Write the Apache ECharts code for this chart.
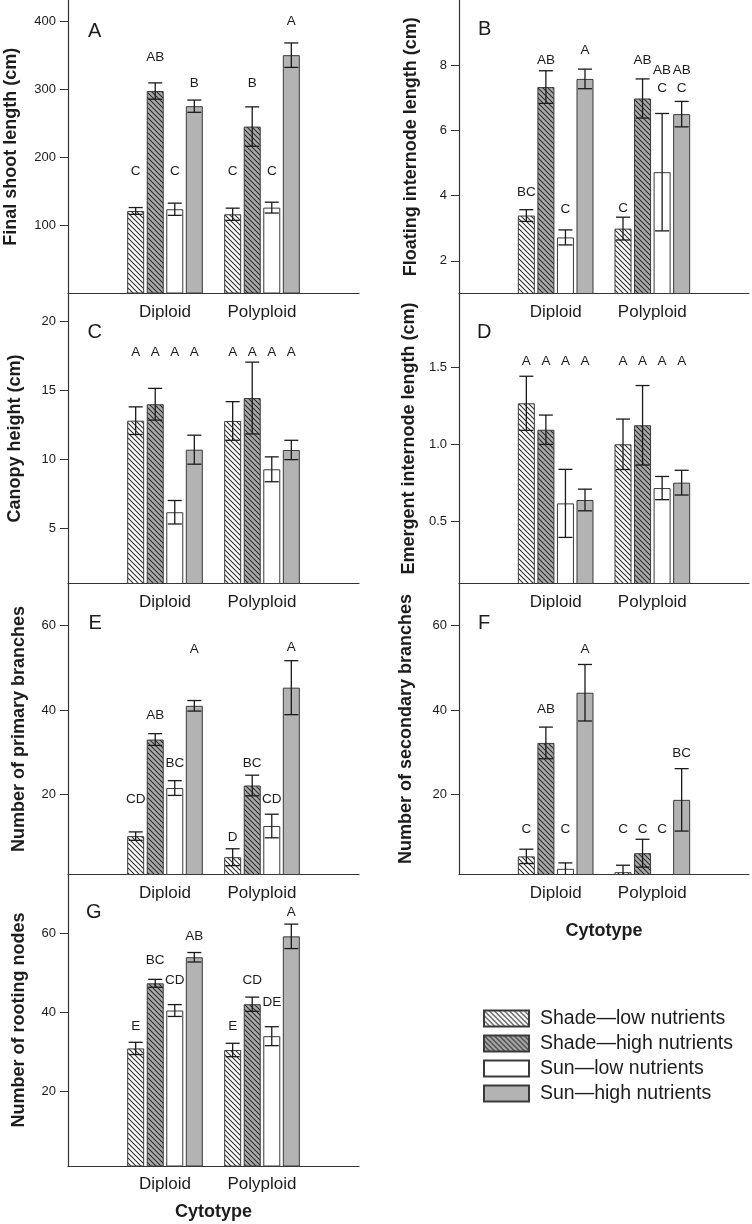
<!DOCTYPE html>
<html><head><meta charset="utf-8">
<script src="https://cdn.jsdelivr.net/npm/echarts@6/dist/echarts.min.js"></script>
<style>html,body{margin:0;padding:0;background:#fff}#c{width:752px;height:1224px}</style>
</head><body><div id="c"></div>
<script>
// ---------------- DATA ----------------
const categories = ['Diploid', 'Polyploid'];
const treatments = ['Shade\u2014low nutrients', 'Shade\u2014high nutrients', 'Sun\u2014low nutrients', 'Sun\u2014high nutrients'];
// each array: rows = treatments (in order above), cols = [Diploid, Polyploid]

// A: Final shoot length (cm)
const A_title = 'Final shoot length (cm)';
const A_ticks = [100, 200, 300, 400];
const A_mean = [[121.5, 116.6], [298, 245.7], [124, 126.4], [275.7, 350.8]];
const A_err  = [[5, 9], [12, 29], [9, 8], [9, 18]];
const A_letters = [['C', 'C'], ['AB', 'B'], ['C', 'C'], ['B', 'A']];
const A_letterAt = [[180, 180], [348, 310], [180, 180], [310, 400]];

// B: Floating internode length (cm)
const B_title = 'Floating internode length (cm)';
const B_ticks = [2, 4, 6, 8];
const B_mean = [[3.39, 2.99], [7.33, 6.98], [2.72, 4.72], [7.58, 6.50]];
const B_err  = [[0.18, 0.35], [0.5, 0.6], [0.23, 1.8], [0.3, 0.39]];
const B_letters = [['BC', 'C'], ['AB', 'AB'], ['C', 'AB\nC'], ['A', 'AB\nC']];
const B_letterAt = [[4.10, 3.62], [8.15, 8.15], [3.58, 7.56], [8.47, 7.56]];

// C: Canopy height (cm)
const C_title = 'Canopy height (cm)';
const C_ticks = [5, 10, 15, 20];
const C_mean = [[12.79, 12.77], [13.98, 14.43], [6.16, 9.27], [10.69, 10.67]];
const C_err  = [[1.0, 1.4], [1.15, 2.6], [0.85, 0.9], [1.05, 0.7]];
const C_letters = [['A', 'A'], ['A', 'A'], ['A', 'A'], ['A', 'A']];
const C_letterAt = [[17.76, 17.76], [17.76, 17.76], [17.76, 17.76], [17.76, 17.76]];

// D: Emergent internode length (cm)
const D_title = 'Emergent internode length (cm)';
const D_ticks = [0.5, 1.0, 1.5];
const D_mean = [[1.265, 1.0], [1.094, 1.123], [0.618, 0.717], [0.640, 0.752]];
const D_err  = [[0.175, 0.163], [0.095, 0.257], [0.22, 0.075], [0.07, 0.08]];
const D_letters = [['A', 'A'], ['A', 'A'], ['A', 'A'], ['A', 'A']];
const D_letterAt = [[1.534, 1.534], [1.534, 1.534], [1.534, 1.534], [1.534, 1.534]];

// E: Number of primary branches
const E_title = 'Number of primary branches';
const E_ticks = [20, 40, 60];
const E_mean = [[10.1, 5.1], [33.0, 22.1], [21.5, 12.5], [41.0, 45.3]];
const E_err  = [[1.0, 2.0], [1.4, 2.45], [1.75, 2.8], [1.25, 6.4]];
const E_letters = [['CD', 'D'], ['AB', 'BC'], ['BC', 'CD'], ['A', 'A']];
const E_letterAt = [[18.8, 9.8], [38.8, 27.4], [27.4, 18.8], [54.5, 54.8]];

// F: Number of secondary branches
const F_title = 'Number of secondary branches';
const F_ticks = [20, 40, 60];
const F_mean = [[5.3, 1.55], [32.2, 6.05], [2.35, null], [44.1, 18.7]];
const F_err  = [[1.7, 1.65], [3.75, 3.3], [1.4, null], [6.7, 7.4]];
const F_letters = [['C', 'C'], ['AB', 'C'], ['C', 'C'], ['A', 'BC']];
const F_letterAt = [[11.8, 11.8], [40.2, 11.8], [11.8, 11.8], [54.3, 29.7]];

// G: Number of rooting nodes
const G_title = 'Number of rooting nodes';
const G_ticks = [20, 40, 60];
const G_mean = [[30.8, 30.4], [47.3, 42.0], [40.4, 33.9], [53.9, 59.2]];
const G_err  = [[1.55, 1.7], [1.0, 1.8], [1.5, 2.4], [1.2, 3.1]];
const G_letters = [['E', 'E'], ['BC', 'CD'], ['CD', 'DE'], ['AB', 'A']];
const G_letterAt = [[36.3, 36.3], [53.2, 48.1], [48.1, 42.6], [59.1, 65.4]];

const xTitle = 'Cytotype';

// ---------------- LAYOUT / STYLE ----------------
const FONT = '"Liberation Sans", Arial, sans-serif';
const INK = '#1c1c1c';
const AXIS = '#333';
const BAR_W = 17, BAR_GAP = 0.15, BAR_STEP = BAR_W * (1 + BAR_GAP), CAP = 7;

const panels = [
  {tag:'A', title:A_title, ticks:A_ticks, mean:A_mean, err:A_err, letters:A_letters, letterAt:A_letterAt,
   grid:{left:68, top:0, width:291, height:293.5}, min:0, max:432, nameGap:48, tagPos:[88, 31]},
  {tag:'B', title:B_title, ticks:B_ticks, mean:B_mean, err:B_err, letters:B_letters, letterAt:B_letterAt,
   grid:{left:459, top:0, width:291, height:293.5}, min:1, max:10, nameGap:39, tagPos:[478, 29.5]},
  {tag:'C', title:C_title, ticks:C_ticks, mean:C_mean, err:C_err, letters:C_letters, letterAt:C_letterAt,
   grid:{left:68, top:293.5, width:291, height:290}, min:1, max:22, nameGap:44, tagPos:[87.5, 332]},
  {tag:'D', title:D_title, ticks:D_ticks, mean:D_mean, err:D_err, letters:D_letters, letterAt:D_letterAt,
   grid:{left:459, top:293.5, width:291, height:290}, min:0.1, max:1.975, nameGap:41, tagPos:[477, 332], dec:1},
  {tag:'E', title:E_title, ticks:E_ticks, mean:E_mean, err:E_err, letters:E_letters, letterAt:E_letterAt,
   grid:{left:68, top:583.5, width:291, height:291}, min:1, max:70, nameGap:40, tagPos:[88.5, 623.5]},
  {tag:'F', title:F_title, ticks:F_ticks, mean:F_mean, err:F_err, letters:F_letters, letterAt:F_letterAt,
   grid:{left:459, top:583.5, width:291, height:291}, min:1, max:70, nameGap:44, tagPos:[478, 623.5],
   xName:true, xNameGap:48},
  {tag:'G', title:G_title, ticks:G_ticks, mean:G_mean, err:G_err, letters:G_letters, letterAt:G_letterAt,
   grid:{left:68, top:874, width:291, height:292}, min:1, max:75, nameGap:40, tagPos:[86, 912],
   xName:true, xNameGap:37}
];

function hatch(bg) {
  const s = 5;
  const c = document.createElement('canvas');
  c.width = s; c.height = s;
  const ctx = c.getContext('2d');
  ctx.fillStyle = bg; ctx.fillRect(0, 0, s, s);
  ctx.strokeStyle = '#2a2a2a'; ctx.lineWidth = 1.05;
  ctx.beginPath();
  for (const k of [-s, 0, s]) { ctx.moveTo(k - 1, -1); ctx.lineTo(k + s + 1, s + 1); }
  ctx.stroke();
  return c;
}
const fills = [
  {image: hatch('#ffffff'), repeat: 'repeat'},
  {image: hatch('#a9a9a9'), repeat: 'repeat'},
  '#ffffff',
  '#b3b3b3'
];

const grids = [], xAxes = [], yAxes = [], series = [], graphics = [];
const xData = [''].concat(categories, ['']);

panels.forEach((p, k) => {
  grids.push(Object.assign({containLabel:false}, p.grid));
  xAxes.push({
    type:'category', gridIndex:k, data:xData, boundaryGap:false,
    axisLine:{onZero:false, lineStyle:{color:AXIS, width:1.2}},
    axisTick:{show:false},
    axisLabel:{interval:0, fontSize:17, color:INK, margin:10, fontFamily:FONT},
    name: p.xName ? xTitle : '', nameLocation:'middle', nameGap:p.xNameGap || 40,
    nameTextStyle:{fontSize:18, fontWeight:'bold', color:INK, fontFamily:FONT}
  });
  yAxes.push({
    type:'value', gridIndex:k, min:p.min, max:p.max,
    axisLine:{show:true, lineStyle:{color:AXIS, width:1.2}},
    axisTick:{show:true, inside:false, length:8, customValues:p.ticks, lineStyle:{color:AXIS, width:1}},
    axisLabel:{customValues:p.ticks, fontSize:13, color:INK, margin:12, fontFamily:FONT,
      formatter: v => p.dec ? Number(v).toFixed(p.dec) : String(v)},
    splitLine:{show:false},
    name:p.title, nameLocation:'middle', nameGap:p.nameGap,
    nameTextStyle:{fontSize:18, fontWeight:'bold', color:INK, fontFamily:FONT}
  });
  treatments.forEach((t, i) => {
    series.push({
      type:'bar', name:t, xAxisIndex:k, yAxisIndex:k,
      data:['-'].concat(p.mean[i].map(v => v == null ? '-' : v), ['-']),
      barWidth:BAR_W, barGap:(BAR_GAP * 100) + '%',
      itemStyle:{color:fills[i], borderColor:'#3a3a3a', borderWidth:1},
      emphasis:{disabled:true}, silent:true, z:2
    });
  });
  const errData = [];
  const letterData = [], letterText = [];
  treatments.forEach((t, i) => {
    categories.forEach((c, j) => {
      if (p.mean[i][j] != null) errData.push([j + 1, i, p.mean[i][j], p.err[i][j]]);
      letterData.push([j + 1, i, p.letterAt[i][j]]);
      letterText.push(p.letters[i][j]);
    });
  });
  const yMin = p.min;
  series.push({
    type:'custom', xAxisIndex:k, yAxisIndex:k, data:errData, encode:{x:0, y:2}, z:4, silent:true,
    renderItem(params, api) {
      const g = api.value(0), i = api.value(1), m = api.value(2), e = api.value(3);
      const off = (i - 1.5) * BAR_STEP;
      const lo = Math.max(m - e, yMin);
      const top = api.coord([g, m + e]);
      const bot = api.coord([g, lo]);
      const x = top[0] + off;
      const st = {stroke:'#1a1a1a', lineWidth:1.3};
      const ch = [
        {type:'line', shape:{x1:x, y1:top[1], x2:x, y2:bot[1]}, style:st},
        {type:'line', shape:{x1:x - CAP, y1:top[1], x2:x + CAP, y2:top[1]}, style:st}
      ];
      if (m - e > yMin) ch.push({type:'line', shape:{x1:x - CAP, y1:bot[1], x2:x + CAP, y2:bot[1]}, style:st});
      return {type:'group', children:ch};
    }
  });
  series.push({
    type:'custom', xAxisIndex:k, yAxisIndex:k, data:letterData, encode:{x:0, y:2}, z:4, silent:true,
    renderItem(params, api) {
      const g = api.value(0), i = api.value(1), y = api.value(2);
      const pt = api.coord([g, y]);
      return {type:'text', x:pt[0] + (i - 1.5) * BAR_STEP, y:pt[1],
        style:{text:letterText[params.dataIndex], align:'center', verticalAlign:'middle',
          fontSize:13.5, lineHeight:18, fontFamily:FONT, fill:INK}};
    }
  });
  graphics.push({type:'text', x:p.tagPos[0], y:p.tagPos[1],
    style:{text:p.tag, fontSize:20, fontFamily:FONT, fill:INK, verticalAlign:'middle'}});
});

const chart = echarts.init(document.getElementById('c'), null, {renderer:'canvas'});
chart.setOption({
  animation:false,
  backgroundColor:'#ffffff',
  textStyle:{fontFamily:FONT},
  grid:grids, xAxis:xAxes, yAxis:yAxes, series:series, graphic:graphics,
  legend:{
    data:treatments, orient:'vertical', left:483, top:1008.5, padding:0, itemWidth:45, itemHeight:16, itemGap:5,
    icon:'rect', selectedMode:false,
    textStyle:{fontSize:19.5, color:INK, fontFamily:FONT, padding:[0,0,0,6]}
  }
});
</script></body></html>
